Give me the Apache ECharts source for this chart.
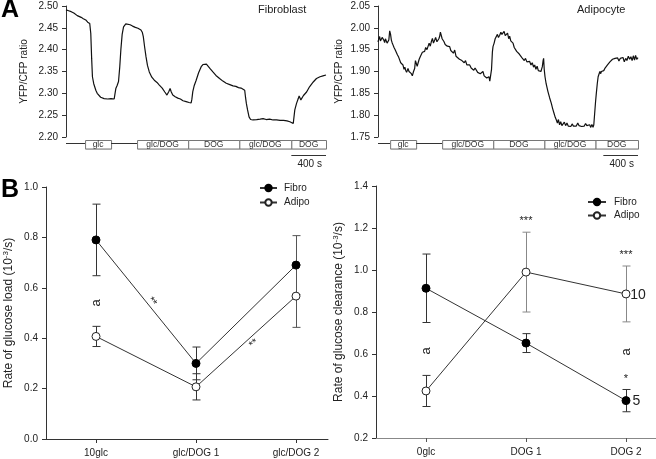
<!DOCTYPE html>
<html><head><meta charset="utf-8">
<script src="https://cdn.jsdelivr.net/npm/echarts@6/dist/echarts.min.js"></script>
<style>html,body{margin:0;padding:0;background:#fff}#c{width:656px;height:459px}</style>
</head><body><div id="c"></div>
<script>
// ---------- Data ----------
// Panel A: traces [time (s), YFP/CFP ratio]
const fibroTrace = [[0,2.491],[30,2.489],[60,2.487],[90,2.484],[112,2.483],[130,2.478],[150,2.480],[175,2.474],[200,2.471],[228,2.468],[250,2.463],[266,2.464],[274,2.460],[286,2.437],[296,2.38],[305,2.338],[320,2.322],[344,2.307],[360,2.300],[382,2.296],[400,2.291],[421,2.289],[440,2.288],[460,2.290],[480,2.287],[500,2.289],[520,2.288],[540,2.287],[556,2.287],[566,2.300],[575,2.311],[590,2.318],[606,2.327],[620,2.36],[633,2.40],[648,2.435],[664,2.452],[690,2.459],[710,2.460],[740,2.457],[768,2.454],[800,2.451],[830,2.449],[865,2.445],[880,2.440],[892,2.43],[908,2.405],[923,2.384],[940,2.364],[961,2.349],[990,2.337],[1019,2.330],[1050,2.325],[1077,2.319],[1110,2.312],[1140,2.303],[1154,2.300],[1165,2.296],[1174,2.294],[1188,2.305],[1201,2.311],[1215,2.303],[1232,2.296],[1260,2.292],[1290,2.289],[1320,2.287],[1350,2.283],[1386,2.281],[1420,2.279],[1444,2.278],[1452,2.286],[1463,2.304],[1480,2.318],[1502,2.330],[1530,2.347],[1560,2.361],[1580,2.366],[1598,2.369],[1620,2.367],[1637,2.365],[1665,2.356],[1695,2.349],[1730,2.341],[1772,2.334],[1810,2.328],[1849,2.323],[1890,2.320],[1927,2.317],[1960,2.316],[1990,2.313],[2020,2.312],[2042,2.311],[2062,2.307],[2072,2.29],[2081,2.277],[2095,2.262],[2112,2.246],[2130,2.240],[2158,2.239],[2200,2.240],[2240,2.241],[2274,2.242],[2310,2.240],[2350,2.241],[2390,2.239],[2429,2.239],[2470,2.238],[2510,2.238],[2550,2.237],[2583,2.235],[2605,2.234],[2622,2.231],[2640,2.262],[2660,2.277],[2680,2.288],[2690,2.294],[2699,2.292],[2710,2.285],[2718,2.287],[2740,2.295],[2776,2.303],[2810,2.315],[2853,2.326],[2890,2.334],[2931,2.338],[2965,2.340],[3000,2.342]];

const adipoTrace = [[0,1.968],[10,1.975],[19,1.980],[28,1.970],[38,1.968],[48,1.978],[58,1.981],[67,1.972],[77,1.966],[86,1.975],[96,1.974],[105,1.965],[115,1.968],[125,1.972],[135,1.993],[145,1.985],[154,1.972],[163,1.966],[173,1.961],[185,1.955],[198,1.950],[212,1.949],[225,1.938],[238,1.933],[250,1.930],[262,1.920],[275,1.918],[288,1.915],[300,1.905],[310,1.910],[319,1.903],[330,1.898],[346,1.907],[358,1.900],[373,1.900],[385,1.895],[396,1.890],[410,1.900],[423,1.907],[432,1.925],[442,1.923],[452,1.912],[462,1.915],[475,1.928],[490,1.935],[500,1.934],[512,1.944],[525,1.947],[538,1.946],[550,1.955],[565,1.950],[577,1.953],[590,1.965],[603,1.958],[615,1.968],[628,1.976],[640,1.965],[654,1.972],[665,1.978],[680,1.968],[692,1.965],[702,1.975],[711,1.980],[720,1.990],[731,1.987],[740,1.975],[750,1.972],[762,1.968],[775,1.962],[788,1.961],[800,1.958],[812,1.962],[827,1.957],[840,1.948],[855,1.952],[870,1.942],[885,1.949],[900,1.935],[912,1.938],[923,1.934],[940,1.928],[955,1.932],[968,1.925],[981,1.926],[995,1.920],[1010,1.925],[1025,1.915],[1040,1.918],[1058,1.915],[1075,1.908],[1090,1.912],[1105,1.903],[1120,1.908],[1135,1.907],[1150,1.898],[1165,1.902],[1180,1.895],[1195,1.898],[1211,1.900],[1225,1.890],[1240,1.893],[1255,1.885],[1269,1.884],[1280,1.888],[1290,1.878],[1300,1.877],[1310,1.905],[1320,1.945],[1327,1.957],[1340,1.965],[1352,1.975],[1365,1.976],[1378,1.985],[1390,1.978],[1404,1.983],[1418,1.990],[1430,1.985],[1442,1.987],[1455,1.992],[1468,1.982],[1481,1.983],[1495,1.988],[1508,1.975],[1519,1.981],[1532,1.970],[1545,1.968],[1558,1.965],[1572,1.955],[1585,1.958],[1600,1.946],[1615,1.946],[1630,1.940],[1645,1.942],[1660,1.932],[1673,1.934],[1688,1.925],[1702,1.930],[1718,1.922],[1735,1.925],[1750,1.923],[1765,1.915],[1780,1.920],[1795,1.910],[1808,1.915],[1822,1.905],[1836,1.912],[1850,1.902],[1865,1.903],[1880,1.900],[1896,1.911],[1905,1.925],[1911,1.930],[1918,1.905],[1927,1.888],[1940,1.872],[1961,1.854],[1980,1.840],[2000,1.827],[2015,1.815],[2030,1.805],[2045,1.795],[2058,1.789],[2070,1.782],[2082,1.790],[2095,1.778],[2108,1.785],[2122,1.776],[2135,1.778],[2150,1.784],[2165,1.776],[2180,1.782],[2195,1.775],[2211,1.778],[2225,1.774],[2240,1.780],[2255,1.775],[2270,1.778],[2288,1.775],[2305,1.782],[2320,1.776],[2335,1.779],[2350,1.774],[2365,1.778],[2380,1.775],[2395,1.781],[2410,1.776],[2425,1.779],[2442,1.778],[2455,1.772],[2468,1.779],[2481,1.772],[2490,1.778],[2500,1.781],[2510,1.830],[2519,1.850],[2530,1.872],[2540,1.888],[2550,1.892],[2560,1.900],[2570,1.895],[2577,1.900],[2590,1.904],[2605,1.902],[2620,1.908],[2634,1.907],[2648,1.915],[2662,1.912],[2676,1.922],[2692,1.923],[2706,1.928],[2720,1.924],[2735,1.930],[2750,1.926],[2765,1.931],[2780,1.924],[2795,1.930],[2810,1.926],[2827,1.932],[2842,1.922],[2858,1.930],[2872,1.925],[2888,1.935],[2904,1.928],[2918,1.934],[2932,1.925],[2946,1.936],[2960,1.926],[2972,1.937],[2985,1.928],[3000,1.932]];

// Protocol bars (time in s): kind 0 = plain line, 1 = labelled box
const fibroProtoStart = [0, 220, 520, 820, 1410, 2000, 2600];
const fibroProtoEnd   = [220, 520, 820, 1410, 2000, 2600, 3000];
const fibroProtoKind  = [0, 1, 0, 1, 1, 1, 1];
const adipoProtoStart = [0, 140, 440, 740, 1330, 1920, 2510];
const adipoProtoEnd   = [140, 440, 740, 1330, 1920, 2510, 3000];
const adipoProtoKind  = [0, 1, 0, 1, 1, 1, 1];
const protoLabels     = ['', 'glc', '', 'glc/DOG', 'DOG', 'glc/DOG', 'DOG'];
const scaleBarSeconds = 400;

// Panel B left: rate of glucose load
const loadCats      = ['10glc', 'glc/DOG 1', 'glc/DOG 2'];
const loadFibro     = [0.79, 0.30, 0.69];
const loadFibroErr  = [0.142, 0.065, 0.117];
const loadAdipo     = [0.407, 0.207, 0.567];
const loadAdipoErr  = [0.040, 0.052, 0.124];
const loadNoteText  = ['a', '**', '**'];
const loadNoteX     = [0, 0.56, 1.58];
const loadNoteY     = [0.54, 0.545, 0.378];
const loadNoteRot   = [90, -52, 42];

// Panel B right: rate of glucose clearance
const clearCats     = ['0glc', 'DOG 1', 'DOG 2'];
const clearFibro    = [0.913, 0.652, 0.378];
const clearFibroErr = [0.163, 0.045, 0.053];
const clearAdipo    = [0.424, 0.990, 0.886];
const clearAdipoErr = [0.074, 0.190, 0.133];
const clearNoteText = ['a', 'a', '***', '***', '*', '10', '5'];
const clearNoteX    = [0, 2, 1, 2, 2, 2.12, 2.105];
const clearNoteY    = [0.615, 0.61, 1.235, 1.071, 0.48, 0.880, 0.377];
const clearNoteRot  = [90, 90, 0, 0, 0, 0, 0];

// ---------- Chart ----------
const FONT = '"Liberation Sans", Arial, sans-serif';
const chart = echarts.init(document.getElementById('c'), null, {renderer: 'canvas'});

function protoData(s, e, k) { return s.map((v, i) => [v, e[i], k[i], i]); }
function protoRender(params, api) {
  const cs = params.coordSys;
  const bottom = cs.y + cs.height;
  const x0 = api.coord([api.value(0), 0])[0];
  const x1 = api.coord([api.value(1), 0])[0];
  const kind = api.value(2);
  const idx = api.value(3);
  if (kind === 0) {
    return {type: 'line', shape: {x1: x0, y1: bottom + 6.5, x2: x1, y2: bottom + 6.5}, style: {stroke: '#333', lineWidth: 1}};
  }
  return {type: 'group', children: [
    {type: 'rect', shape: {x: x0 + 0.5, y: bottom + 3.5, width: x1 - x0, height: 8.5}, style: {fill: '#fff', stroke: '#777', lineWidth: 1}},
    {type: 'line', shape: {x1: x0 + 0.5, y1: bottom + 12.5, x2: x1 + 0.5, y2: bottom + 12.5}, style: {stroke: '#aaa', lineWidth: 1}},
    {type: 'text', style: {text: protoLabels[idx], x: (x0 + x1) / 2, y: bottom + 8, align: 'center', verticalAlign: 'middle', font: '8.5px ' + FONT, fill: '#333'}}
  ]};
}
function scaleRender(params, api) {
  const cs = params.coordSys;
  const bottom = cs.y + cs.height;
  const x0 = api.coord([api.value(0), 0])[0];
  const x1 = api.coord([api.value(1), 0])[0];
  return {type: 'group', children: [
    {type: 'line', shape: {x1: x0, y1: bottom + 18.5, x2: x1, y2: bottom + 18.5}, style: {stroke: '#333', lineWidth: 1}},
    {type: 'text', style: {text: scaleBarSeconds + ' s', x: (x0 + x1) / 2 + 1, y: bottom + 27, align: 'center', verticalAlign: 'middle', font: '10px ' + FONT, fill: '#222'}}
  ]};
}
function errData(m, e) { return m.map((v, i) => [i, v - e[i], v + e[i]]); }
function errRender(colors) {
  return function (params, api) {
    const i = params.dataIndex;
    const p0 = api.coord([api.value(0), api.value(1)]);
    const p1 = api.coord([api.value(0), api.value(2)]);
    const st = {stroke: colors[i], lineWidth: 1};
    const x = Math.round(p0[0]) + 0.5;
    return {type: 'group', children: [
      {type: 'line', shape: {x1: x, y1: p0[1], x2: x, y2: p1[1]}, style: st},
      {type: 'line', shape: {x1: x - 4, y1: p0[1], x2: x + 4, y2: p0[1]}, style: st},
      {type: 'line', shape: {x1: x - 4, y1: p1[1], x2: x + 4, y2: p1[1]}, style: st}
    ]};
  };
}
function noteData(xs, ys) { return xs.map((v, i) => [v, ys[i], i]); }
function noteRender(texts, rots) {
  return function (params, api) {
    const i = api.value(2);
    const p = api.coord([api.value(0), api.value(1)]);
    const t = texts[i];
    const isNum = /^[0-9]+$/.test(t);
    const size = isNum ? 14 : (t === 'a' ? 13 : 11);
    return {type: 'text', x: p[0], y: p[1], rotation: rots[i] * Math.PI / 180,
      style: {text: t, x: 0, y: 0, align: 'center', verticalAlign: 'middle', font: size + 'px ' + FONT, fill: '#222'}};
  };
}

const yTitleRich = {n: {fontSize: 12, fontFamily: FONT, color: '#222'}, s: {fontSize: 8, fontFamily: FONT, color: '#222', verticalAlign: 'top', padding: [0, 0, 6, 0]}};

const baseY = (min, max, interval, dec, gap, color) => ({
  type: 'value', min: min, max: max, interval: interval,
  axisLine: {show: true, onZero: false, lineStyle: {color: color || '#333', width: 1}},
  axisTick: {show: true, length: 4, inside: false, lineStyle: {color: '#333'}},
  axisLabel: {margin: 8, fontSize: 10, fontFamily: FONT, color: '#222', formatter: v => v.toFixed(dec)},
  splitLine: {show: false},
  nameLocation: 'middle', nameGap: gap
});

const option = {
  animation: false,
  backgroundColor: '#fff',
  textStyle: {fontFamily: FONT},
  grid: [
    {left: 66, top: 6, width: 260, height: 131},
    {left: 378, top: 6, width: 260, height: 131},
    {left: 46, top: 187, width: 282, height: 252},
    {left: 376, top: 186, width: 280, height: 252}
  ],
  xAxis: [
    {gridIndex: 0, type: 'value', min: 0, max: 3000, show: false},
    {gridIndex: 1, type: 'value', min: 0, max: 3000, show: false},
    {gridIndex: 2, type: 'value', min: -0.5, max: 2.32,
      axisLine: {show: true, onZero: false, lineStyle: {color: '#333'}},
      axisTick: {show: true, length: 4, customValues: [0, 1, 2], lineStyle: {color: '#333'}},
      axisLabel: {customValues: [0, 1, 2], margin: 9, fontSize: 10, fontFamily: FONT, color: '#222', formatter: v => loadCats[Math.round(v)]},
      splitLine: {show: false}},
    {gridIndex: 3, type: 'value', min: -0.5, max: 2.3,
      axisLine: {show: true, onZero: false, lineStyle: {color: '#888'}},
      axisTick: {show: true, length: 4, customValues: [0, 1, 2], lineStyle: {color: '#555'}},
      axisLabel: {customValues: [0, 1, 2], margin: 9, fontSize: 10, fontFamily: FONT, color: '#222', formatter: v => clearCats[Math.round(v)]},
      splitLine: {show: false}}
  ],
  yAxis: [
    Object.assign(baseY(2.2, 2.5, 0.05, 2, 37), {gridIndex: 0, name: 'YFP/CFP ratio', nameTextStyle: {fontSize: 10, fontFamily: FONT, color: '#222'}}),
    Object.assign(baseY(1.75, 2.05, 0.05, 2, 34), {gridIndex: 1, name: 'YFP/CFP ratio', nameTextStyle: {fontSize: 10, fontFamily: FONT, color: '#222'}}),
    Object.assign(baseY(0, 1.0, 0.2, 1, 30), {gridIndex: 2, name: '{n|Rate of glucose load (10}{s|-3}{n|/s)}', nameTextStyle: {rich: yTitleRich}}),
    Object.assign(baseY(0.2, 1.4, 0.2, 1, 30), {gridIndex: 3, name: '{n|Rate of glucose clearance (10}{s|-3}{n|/s)}', nameTextStyle: {rich: yTitleRich}})
  ],
  legend: [
    {orient: 'vertical', left: 254, top: 178, itemWidth: 17, itemHeight: 8, itemGap: 4.5, data: ['Fibro', 'Adipo'],
      textStyle: {fontSize: 10, fontFamily: FONT, color: '#222', padding: [0, 0, 0, 2]}, selectedMode: false},
    {orient: 'vertical', left: 582, top: 192, itemWidth: 18, itemHeight: 8, itemGap: 3.5, data: ['Fibro', 'Adipo'],
      textStyle: {fontSize: 10, fontFamily: FONT, color: '#222', padding: [0, 0, 0, 3]}, selectedMode: false}
  ],
  graphic: [
    {type: 'text', left: 1, top: -2, style: {text: 'A', font: 'bold 25px ' + FONT, fill: '#000'}},
    {type: 'text', left: 1, top: 178, style: {text: 'B', font: 'bold 25px ' + FONT, fill: '#000'}},
    {type: 'text', left: 258, top: 4, style: {text: 'Fibroblast', font: '11px ' + FONT, fill: '#222'}},
    {type: 'text', left: 577, top: 4, style: {text: 'Adipocyte', font: '11px ' + FONT, fill: '#222'}}
  ],
  series: [
    {type: 'line', xAxisIndex: 0, yAxisIndex: 0, data: fibroTrace, showSymbol: false, lineStyle: {color: '#111', width: 1.2}, silent: true},
    {type: 'line', xAxisIndex: 1, yAxisIndex: 1, data: adipoTrace, showSymbol: false, lineStyle: {color: '#111', width: 1.2}, silent: true},
    {type: 'custom', xAxisIndex: 0, yAxisIndex: 0, data: protoData(fibroProtoStart, fibroProtoEnd, fibroProtoKind), renderItem: protoRender, silent: true},
    {type: 'custom', xAxisIndex: 1, yAxisIndex: 1, data: protoData(adipoProtoStart, adipoProtoEnd, adipoProtoKind), renderItem: protoRender, silent: true},
    {type: 'custom', xAxisIndex: 0, yAxisIndex: 0, data: [[3000 - scaleBarSeconds, 3000]], renderItem: scaleRender, silent: true},
    {type: 'custom', xAxisIndex: 1, yAxisIndex: 1, data: [[3000 - scaleBarSeconds, 3000]], renderItem: scaleRender, silent: true},
    // error bars
    {type: 'custom', xAxisIndex: 2, yAxisIndex: 2, data: errData(loadFibro, loadFibroErr), renderItem: errRender(['#333', '#333', '#555']), z: 2, silent: true},
    {type: 'custom', xAxisIndex: 2, yAxisIndex: 2, data: errData(loadAdipo, loadAdipoErr), renderItem: errRender(['#333', '#333', '#555']), z: 2, silent: true},
    {type: 'custom', xAxisIndex: 3, yAxisIndex: 3, data: errData(clearFibro, clearFibroErr), renderItem: errRender(['#333', '#333', '#333']), z: 2, silent: true},
    {type: 'custom', xAxisIndex: 3, yAxisIndex: 3, data: errData(clearAdipo, clearAdipoErr), renderItem: errRender(['#333', '#888', '#888']), z: 2, silent: true},
    // means
    {name: 'Fibro', type: 'line', xAxisIndex: 2, yAxisIndex: 2, data: loadFibro.map((v, i) => [i, v]), symbol: 'circle', symbolSize: 8,
      itemStyle: {color: '#000', borderColor: '#000', borderWidth: 1}, lineStyle: {color: '#333', width: 1}, z: 3},
    {name: 'Adipo', type: 'line', xAxisIndex: 2, yAxisIndex: 2, data: loadAdipo.map((v, i) => [i, v]), symbol: 'circle', symbolSize: 8,
      itemStyle: {color: '#fff', borderColor: '#222', borderWidth: 1}, lineStyle: {color: '#333', width: 1}, z: 3},
    {name: 'Fibro', type: 'line', xAxisIndex: 3, yAxisIndex: 3, data: clearFibro.map((v, i) => [i, v]), symbol: 'circle', symbolSize: 8,
      itemStyle: {color: '#000', borderColor: '#000', borderWidth: 1}, lineStyle: {color: '#333', width: 1}, z: 3},
    {name: 'Adipo', type: 'line', xAxisIndex: 3, yAxisIndex: 3, data: clearAdipo.map((v, i) => [i, v]), symbol: 'circle', symbolSize: 8,
      itemStyle: {color: '#fff', borderColor: '#222', borderWidth: 1}, lineStyle: {color: '#333', width: 1}, z: 3},
    // annotations
    {type: 'custom', xAxisIndex: 2, yAxisIndex: 2, data: noteData(loadNoteX, loadNoteY), renderItem: noteRender(loadNoteText, loadNoteRot), z: 4, silent: true},
    {type: 'custom', xAxisIndex: 3, yAxisIndex: 3, data: noteData(clearNoteX, clearNoteY), renderItem: noteRender(clearNoteText, clearNoteRot), z: 4, silent: true}
  ]
};
chart.setOption(option);
</script></body></html>
